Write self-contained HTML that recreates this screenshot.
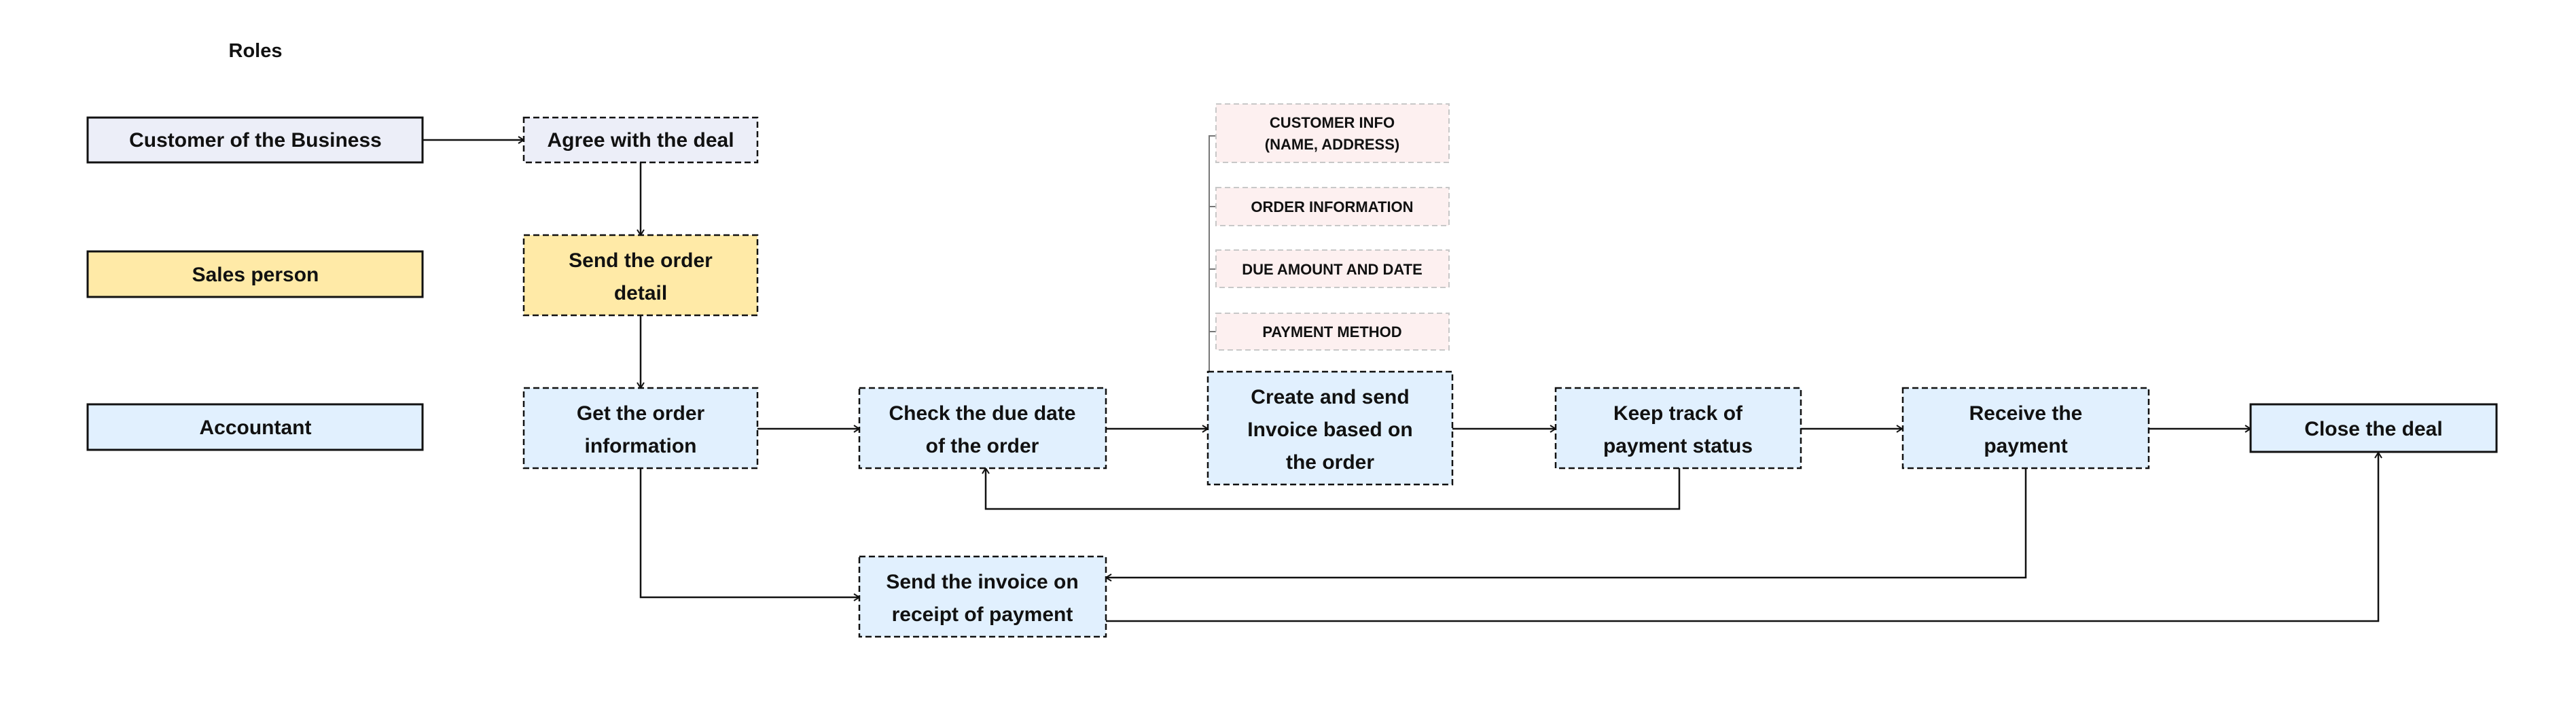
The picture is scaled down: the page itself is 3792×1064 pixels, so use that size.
<!DOCTYPE html>
<html><head><meta charset="utf-8"><style>
html,body{margin:0;padding:0;background:#fff;width:3792px;height:1064px;overflow:hidden}
text{font-family:"Liberation Sans",sans-serif;font-weight:bold;fill:#111}
</style></head><body>
<svg width="3792" height="1064" viewBox="0 0 3792 1064" xmlns="http://www.w3.org/2000/svg">
<defs>
<marker id="a" viewBox="0 0 12 12" refX="11" refY="6" markerWidth="12" markerHeight="12" markerUnits="userSpaceOnUse" orient="auto">
<polyline points="3,1 11,6 3,11" fill="none" stroke="#111" stroke-width="2"/>
</marker>
</defs>
<text x="376" y="84" font-size="29" text-anchor="middle">Roles</text>

<rect x="129" y="173" width="493" height="66" fill="#ECEEF8" stroke="#111" stroke-width="3"/>
<text x="376" y="216" font-size="30" text-anchor="middle">Customer of the Business</text>
<rect x="129" y="370" width="493" height="67" fill="#FFEAA7" stroke="#111" stroke-width="3"/>
<text x="376" y="414" font-size="30" text-anchor="middle">Sales person</text>
<rect x="129" y="595" width="493" height="67" fill="#E1F0FE" stroke="#111" stroke-width="3"/>
<text x="376" y="639" font-size="30" text-anchor="middle">Accountant</text>

<g fill="none" stroke="#111" stroke-width="2.5">
<line x1="622" y1="206" x2="771" y2="206" marker-end="url(#a)"/>
<line x1="943" y1="239" x2="943" y2="346" marker-end="url(#a)"/>
<line x1="943" y1="464" x2="943" y2="571" marker-end="url(#a)"/>
<line x1="1115" y1="631" x2="1265" y2="631" marker-end="url(#a)"/>
<line x1="1628" y1="631" x2="1778" y2="631" marker-end="url(#a)"/>
<line x1="2138" y1="631" x2="2290" y2="631" marker-end="url(#a)"/>
<line x1="2651" y1="631" x2="2800" y2="631" marker-end="url(#a)"/>
<line x1="3163" y1="631" x2="3313" y2="631" marker-end="url(#a)"/>
<polyline points="2472,689 2472,749 1451,749 1451,689" marker-end="url(#a)"/>
<polyline points="2982,689 2982,850 1628,850" marker-end="url(#a)"/>
<polyline points="943,689 943,879 1265,879" marker-end="url(#a)"/>
<polyline points="1628,914 3501,914 3501,666" marker-end="url(#a)"/>
</g>
<g fill="none" stroke="#777" stroke-width="2">
<polyline points="1790,200 1780,200 1780,547"/>
<line x1="1780" y1="304" x2="1790" y2="304"/>
<line x1="1780" y1="396" x2="1790" y2="396"/>
<line x1="1780" y1="488" x2="1790" y2="488"/>
</g>

<g fill="#FDF0F0" stroke="#C8C8C8" stroke-width="2" stroke-dasharray="8 5">
<rect x="1790" y="153" width="343" height="86"/>
<rect x="1790" y="276" width="343" height="56"/>
<rect x="1790" y="368" width="343" height="55"/>
<rect x="1790" y="461" width="343" height="54"/>
</g>
<g font-size="22" text-anchor="middle">
<text x="1961" y="188" font-size="22">CUSTOMER INFO</text>
<text x="1961" y="220" font-size="22">(NAME, ADDRESS)</text>
<text x="1961" y="312" font-size="22">ORDER INFORMATION</text>
<text x="1961" y="404" font-size="22">DUE AMOUNT AND DATE</text>
<text x="1961" y="496" font-size="22">PAYMENT METHOD</text>
</g>

<g stroke="#111" stroke-width="2.5" stroke-dasharray="9 5">
<rect x="771" y="173" width="344" height="66" fill="#ECEEF8"/>
<rect x="771" y="346" width="344" height="118" fill="#FFEAA7"/>
<rect x="771" y="571" width="344" height="118" fill="#E1F0FE"/>
<rect x="1265" y="571" width="363" height="118" fill="#E1F0FE"/>
<rect x="1778" y="547" width="360" height="166" fill="#E1F0FE"/>
<rect x="2290" y="571" width="361" height="118" fill="#E1F0FE"/>
<rect x="2801" y="571" width="362" height="118" fill="#E1F0FE"/>
<rect x="1265" y="819" width="363" height="118" fill="#E1F0FE"/>
</g>
<rect x="3313" y="595" width="362" height="70" fill="#E1F0FE" stroke="#111" stroke-width="3"/>

<g font-size="30" text-anchor="middle">
<text x="943" y="216" font-size="30">Agree with the deal</text>
<text x="943" y="393" font-size="30">Send the order</text>
<text x="943" y="441" font-size="30">detail</text>
<text x="943" y="618" font-size="30">Get the order</text>
<text x="943" y="666" font-size="30">information</text>
<text x="1446" y="618" font-size="30">Check the due date</text>
<text x="1446" y="666" font-size="30">of the order</text>
<text x="1958" y="594" font-size="30">Create and send</text>
<text x="1958" y="642" font-size="30">Invoice based on</text>
<text x="1958" y="690" font-size="30">the order</text>
<text x="2470" y="618" font-size="30">Keep track of</text>
<text x="2470" y="666" font-size="30">payment status</text>
<text x="2982" y="618" font-size="30">Receive the</text>
<text x="2982" y="666" font-size="30">payment</text>
<text x="3494" y="641" font-size="30">Close the deal</text>
<text x="1446" y="866" font-size="30">Send the invoice on</text>
<text x="1446" y="914" font-size="30">receipt of payment</text>
</g>
</svg>
</body></html>
